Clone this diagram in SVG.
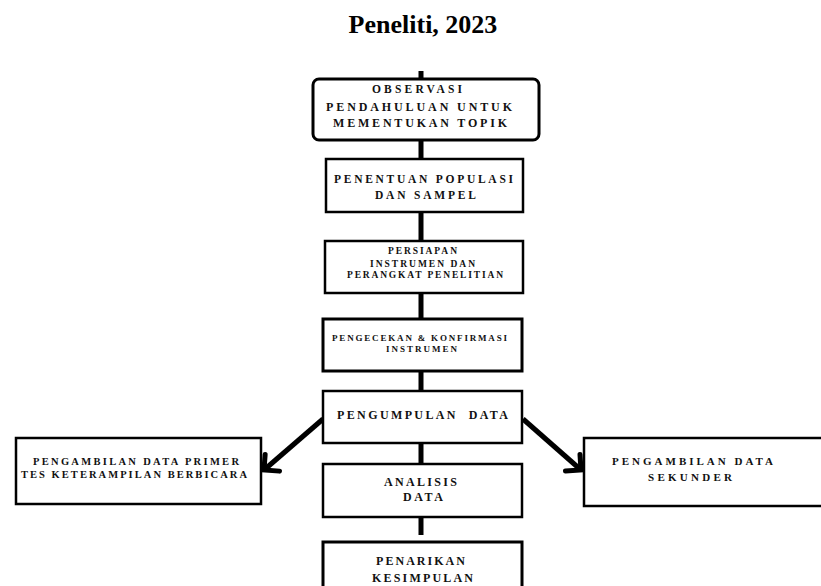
<svg xmlns="http://www.w3.org/2000/svg" width="821" height="586" viewBox="0 0 821 586">
<style>
.box{fill:#fff;stroke:#000;stroke-width:2.5}
.thick{stroke-width:3}
.t{font-family:"Liberation Serif","Times New Roman",serif;font-weight:bold;fill:#111}
.title{font-family:"Liberation Serif","Times New Roman",serif;font-weight:bold;font-size:26px;fill:#000}
.conn{stroke:#000;stroke-width:5;fill:none}
</style>
<defs>
<marker id="arr" markerUnits="userSpaceOnUse" markerWidth="30" markerHeight="30" viewBox="-20 -15 30 30" refX="0" refY="0" orient="auto">
<path d="M-11,-11 L0,0 L-11,11" fill="none" stroke="#000" stroke-width="5" stroke-linecap="round" stroke-linejoin="miter"/>
</marker>
</defs>
<rect width="821" height="586" fill="#fff"/>
<text class="title" x="423" y="33" text-anchor="middle">Peneliti, 2023</text>
<g id="connectors">
<line class="conn" x1="421" y1="71" x2="421" y2="535"/>
<line class="conn" x1="323" y1="419" x2="264" y2="470" marker-end="url(#arr)"/>
<line class="conn" x1="523" y1="419" x2="581" y2="470" marker-end="url(#arr)"/>
</g>
<g id="n1">
<rect class="box thick" x="313" y="79" width="226" height="61" rx="6"/>
<text class="t" font-size="11.5" x="372" y="93" textLength="90" lengthAdjust="spacing">OBSERVASI</text>
<text class="t" font-size="12" x="326" y="111" textLength="186" lengthAdjust="spacing">PENDAHULUAN UNTUK</text>
<text class="t" font-size="12" x="333" y="127" textLength="174" lengthAdjust="spacing">MEMENTUKAN TOPIK</text>
</g>
<g id="n2">
<rect class="box" x="326" y="159" width="197" height="53"/>
<text class="t" font-size="11.5" x="334" y="183" textLength="179" lengthAdjust="spacing">PENENTUAN POPULASI</text>
<text class="t" font-size="11.5" x="375" y="199" textLength="101" lengthAdjust="spacing">DAN SAMPEL</text>
</g>
<g id="n3">
<rect class="box" x="325" y="241" width="198" height="52"/>
<text class="t" font-size="9.5" x="388" y="254" textLength="69" lengthAdjust="spacing">PERSIAPAN</text>
<text class="t" font-size="9.5" x="370" y="267" textLength="105" lengthAdjust="spacing">INSTRUMEN DAN</text>
<text class="t" font-size="9.5" x="347" y="278" textLength="156" lengthAdjust="spacing">PERANGKAT PENELITIAN</text>
</g>
<g id="n4">
<rect class="box thick" x="323" y="319" width="199" height="52"/>
<text class="t" font-size="9" x="332" y="341" textLength="175" lengthAdjust="spacing">PENGECEKAN &amp; KONFIRMASI</text>
<text class="t" font-size="9" x="386" y="352" textLength="71" lengthAdjust="spacing">INSTRUMEN</text>
</g>
<g id="n5">
<rect class="box" x="323" y="391" width="199" height="52"/>
<text class="t" font-size="12" x="337" y="419" textLength="171" lengthAdjust="spacing" xml:space="preserve">PENGUMPULAN  DATA</text>
</g>
<g id="n6">
<rect class="box" x="323" y="464" width="199" height="53"/>
<text class="t" font-size="12" x="384" y="486" textLength="73" lengthAdjust="spacing">ANALISIS</text>
<text class="t" font-size="12" x="403" y="501" textLength="40" lengthAdjust="spacing">DATA</text>
</g>
<g id="n7">
<rect class="box thick" x="323" y="542" width="199" height="60"/>
<text class="t" font-size="12" x="376" y="565" textLength="89" lengthAdjust="spacing">PENARIKAN</text>
<text class="t" font-size="12" x="372" y="582" textLength="101" lengthAdjust="spacing">KESIMPULAN</text>
</g>
<g id="n8">
<rect class="box" x="16" y="438" width="245" height="66"/>
<text class="t" font-size="10.5" x="33" y="465" textLength="206" lengthAdjust="spacing">PENGAMBILAN DATA PRIMER</text>
<text class="t" font-size="10.5" x="21" y="478" textLength="226" lengthAdjust="spacing">TES KETERAMPILAN BERBICARA</text>
</g>
<g id="n9">
<rect class="box" x="584" y="438" width="245" height="68"/>
<text class="t" font-size="11" x="612" y="465" textLength="161" lengthAdjust="spacing">PENGAMBILAN DATA</text>
<text class="t" font-size="11" x="648" y="481" textLength="84" lengthAdjust="spacing">SEKUNDER</text>
</g>
</svg>
